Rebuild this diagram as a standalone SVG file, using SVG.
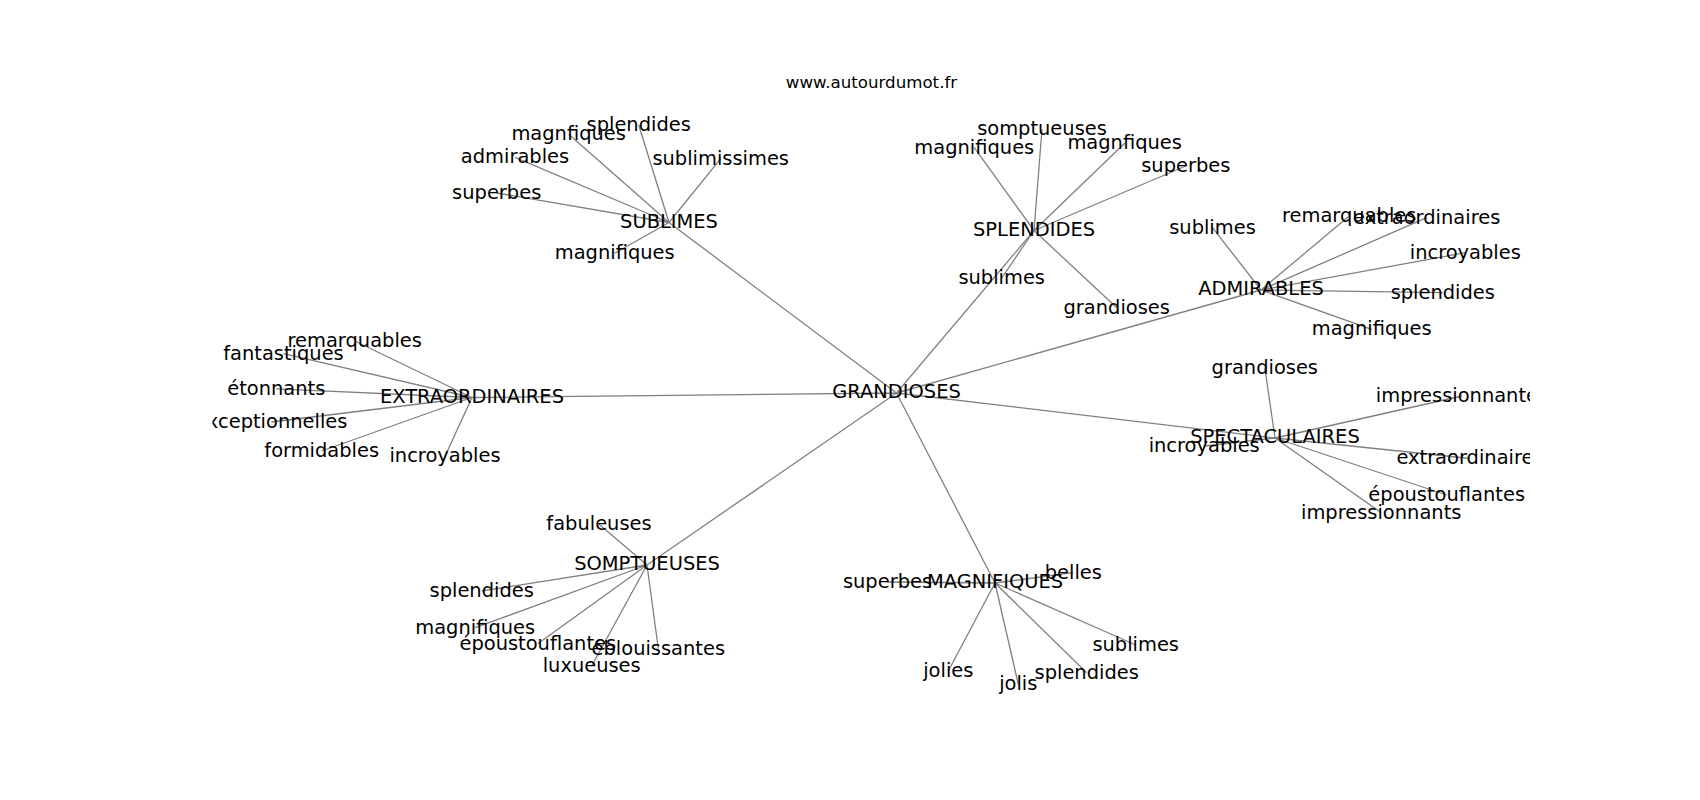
<svg xmlns="http://www.w3.org/2000/svg" width="1700" height="800" viewBox="0 0 1700 800">
<style>
.e{stroke:#808080;stroke-width:1.3;fill:none}
text{font-family:"DejaVu Sans","Liberation Sans",sans-serif;font-size:19.44px;fill:#000;text-anchor:middle}
.t{font-size:16.67px}
</style>
<defs><clipPath id="ax"><rect x="212.5" y="96" width="1317.5" height="616"/></clipPath></defs>
<rect width="1700" height="800" fill="#fff"/>
<text class="t" x="871.5" y="88.3">www.autourdumot.fr</text>
<g id="connectors">
<path class="e" d="M896.5 393L669 222.5M896.5 393L1034 230.5M896.5 393L1261 290M896.5 393L1275 438M896.5 393L472 397.5M896.5 393L647 565M896.5 393L995 583"/>
<path class="e" d="M669 222.5L496.7 193M669 222.5L515 157.3M669 222.5L568.7 134.3M669 222.5L638.7 125M669 222.5L720.7 158.7M669 222.5L614.7 253.3"/>
<path class="e" d="M1034 230.5L974.3 147.7M1034 230.5L1042 129.3M1034 230.5L1124.7 143.3M1034 230.5L1185.8 166M1034 230.5L1001.7 278M1034 230.5L1116.7 307.7"/>
<path class="e" d="M1261 290L1212.5 227.7M1261 290L1349.2 216M1261 290L1426.7 217.7M1261 290L1465.3 252.7M1261 290L1442.8 292.7M1261 290L1371.7 329.3"/>
<path class="e" d="M1275 438L1264.8 367.7M1275 438L1462 396M1275 438L1470 458.5M1275 438L1446.7 495M1275 438L1381.2 512.7M1275 438L1204.2 446"/>
<path class="e" d="M472 397.5L354.7 341M472 397.5L283.5 353.7M472 397.5L276.3 388.8M472 397.5L271.3 422M472 397.5L321.7 451M472 397.5L445 456.3"/>
<path class="e" d="M647 565L599 524.3M647 565L481.7 591M647 565L475.2 627.7M647 565L537.8 643.7M647 565L658.3 648.7M647 565L591.7 666"/>
<path class="e" d="M995 583L887.5 582M995 583L1073.3 572.7M995 583L1135.7 645M995 583L948.3 671M995 583L1018.3 684.3M995 583L1086.7 672.7"/>
</g>
<g id="labels" clip-path="url(#ax)">
<g id="GRANDIOSES"><text x="896.5" y="398.4">GRANDIOSES</text></g>
<g id="SUBLIMES"><text x="669" y="227.9">SUBLIMES</text></g>
<g id="SPLENDIDES"><text x="1034" y="235.9">SPLENDIDES</text></g>
<g id="ADMIRABLES"><text x="1261" y="295.4">ADMIRABLES</text></g>
<g id="SPECTACULAIRES"><text x="1275" y="443.4">SPECTACULAIRES</text></g>
<g id="EXTRAORDINAIRES"><text x="472" y="402.9">EXTRAORDINAIRES</text></g>
<g id="SOMPTUEUSES"><text x="647" y="570.4">SOMPTUEUSES</text></g>
<g id="MAGNIFIQUES"><text x="995" y="588.4">MAGNIFIQUES</text></g>

<g id="sub_superbes"><text x="496.7" y="198.9">superbes</text></g>
<g id="sub_admirables"><text x="515" y="163.2">admirables</text></g>
<g id="sub_magnfiques"><text x="568.7" y="140.2">magnfiques</text></g>
<g id="sub_splendides"><text x="638.7" y="130.9">splendides</text></g>
<g id="sub_sublimissimes"><text x="720.7" y="164.6">sublimissimes</text></g>
<g id="sub_magnifiques"><text x="614.7" y="259.2">magnifiques</text></g>

<g id="spl_magnifiques"><text x="974.3" y="153.6">magnifiques</text></g>
<g id="spl_somptueuses"><text x="1042" y="135.2">somptueuses</text></g>
<g id="spl_magnfiques"><text x="1124.7" y="149.2">magnfiques</text></g>
<g id="spl_superbes"><text x="1185.8" y="171.9">superbes</text></g>
<g id="spl_sublimes"><text x="1001.7" y="283.9">sublimes</text></g>
<g id="spl_grandioses"><text x="1116.7" y="313.6">grandioses</text></g>

<g id="adm_sublimes"><text x="1212.5" y="233.6">sublimes</text></g>
<g id="adm_remarquables"><text x="1349.2" y="221.9">remarquables</text></g>
<g id="adm_extraordinaires"><text x="1426.7" y="223.6">extraordinaires</text></g>
<g id="adm_incroyables"><text x="1465.3" y="258.6">incroyables</text></g>
<g id="adm_splendides"><text x="1442.8" y="298.6">splendides</text></g>
<g id="adm_magnifiques"><text x="1371.7" y="335.2">magnifiques</text></g>

<g id="spe_grandioses"><text x="1264.8" y="373.6">grandioses</text></g>
<g id="spe_impressionnantes"><text x="1462" y="401.9">impressionnantes</text></g>
<g id="spe_extraordinaires"><text x="1470" y="464.4">extraordinaires</text></g>
<g id="spe_epoustouflantes"><text x="1446.7" y="500.9">époustouflantes</text></g>
<g id="spe_impressionnants"><text x="1381.2" y="518.6">impressionnants</text></g>
<g id="spe_incroyables"><text x="1204.2" y="451.9">incroyables</text></g>

<g id="ext_remarquables"><text x="354.7" y="346.9">remarquables</text></g>
<g id="ext_fantastiques"><text x="283.5" y="359.6">fantastiques</text></g>
<g id="ext_etonnants"><text x="276.3" y="394.7">étonnants</text></g>
<g id="ext_exceptionnelles"><text x="271.3" y="427.9">exceptionnelles</text></g>
<g id="ext_formidables"><text x="321.7" y="456.9">formidables</text></g>
<g id="ext_incroyables"><text x="445" y="462.2">incroyables</text></g>

<g id="som_fabuleuses"><text x="599" y="530.2">fabuleuses</text></g>
<g id="som_splendides"><text x="481.7" y="596.9">splendides</text></g>
<g id="som_magnifiques"><text x="475.2" y="633.6">magnifiques</text></g>
<g id="som_epoustouflantes"><text x="537.8" y="649.6">époustouflantes</text></g>
<g id="som_eblouissantes"><text x="658.3" y="654.6">éblouissantes</text></g>
<g id="som_luxueuses"><text x="591.7" y="671.9">luxueuses</text></g>

<g id="mag_superbes"><text x="887.5" y="587.9">superbes</text></g>
<g id="mag_belles"><text x="1073.3" y="578.6">belles</text></g>
<g id="mag_sublimes"><text x="1135.7" y="650.9">sublimes</text></g>
<g id="mag_jolies"><text x="948.3" y="676.9">jolies</text></g>
<g id="mag_jolis"><text x="1018.3" y="690.2">jolis</text></g>
<g id="mag_splendides"><text x="1086.7" y="678.6">splendides</text></g>
</g>
</svg>
